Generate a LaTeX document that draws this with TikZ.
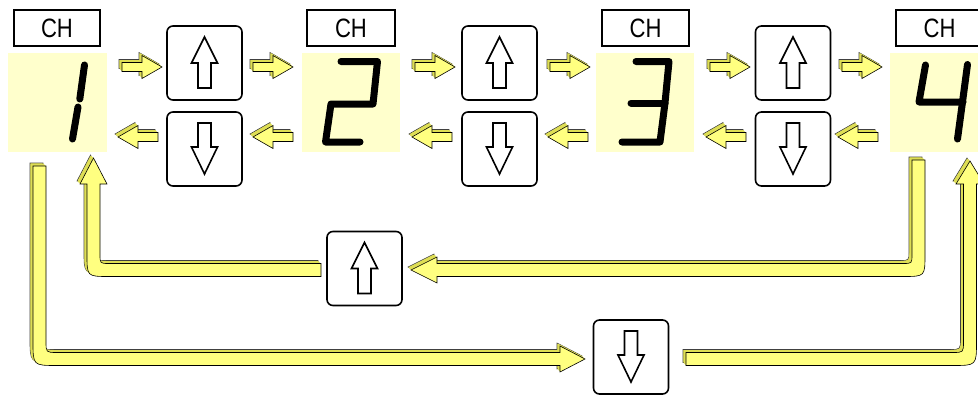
\documentclass[tikz,border=0pt]{standalone}
\usepackage{fontspec}
\usepackage{graphicx}
\setmainfont{Liberation Sans}
\definecolor{panelc}{RGB}{255,255,204}
\definecolor{facec}{RGB}{255,255,128}
\definecolor{sidec}{RGB}{222,222,84}
\tikzset{
  panel/.style={fill=panelc, draw=none, minimum width=#1, minimum height=99, inner sep=0},
  chbox/.style={draw=black, line width=1.5, fill=white, minimum width=#1, minimum height=36, inner sep=0,
    font=\fontsize{22.5}{22.5}\selectfont},
  btn/.style={draw=black, line width=1.6, fill=white, rounded corners=6, minimum width=75, minimum height=74, inner sep=0},
  glyph/.style={draw=black, line width=1.6, fill=white, line join=miter},
  seg/.style={draw=black, line width=7, line cap=round, line join=round},
}
\newcommand\chtext{\scalebox{0.98}[1.18]{CH}}
\newcommand\threed[1]{%
  \filldraw[fill=sidec,draw=black!75,line width=0.6,shift={(-3,-3)}] #1;
  \foreach \o in {2.5,2,1.5,1,0.5}{\fill[sidec,shift={(-\o,-\o)}] #1;}
  \filldraw[fill=facec,draw=black,line width=0.6] #1;}
\newcommand\sarrR[2]{\begin{scope}[shift={(#1,#2)}]\threed{(-40,-4.5) -- (-20,-4.5) -- (-20,-11.5) -- (0,0) -- (-20,11.5) -- (-20,4.5) -- (-40,4.5) -- cycle}\end{scope}}
\newcommand\sarrL[2]{\begin{scope}[shift={(#1,#2)}]\threed{(40,-4.5) -- (20,-4.5) -- (20,-11.5) -- (0,0) -- (20,11.5) -- (20,4.5) -- (40,4.5) -- cycle}\end{scope}}
\newcommand\upglyph[1]{\draw[glyph,shift={(#1.center)}] (-6.5,25) -- (-6.5,0) -- (-13,0) -- (0,-26) -- (13,0) -- (6.5,0) -- (6.5,25) -- cycle;}
\newcommand\downglyph[1]{\draw[glyph,shift={(#1.center)}] (-6.5,-26) -- (6.5,-26) -- (6.5,-2) -- (13,-2) -- (0,25) -- (-13,-2) -- (-6.5,-2) -- cycle;}
\begin{document}
\begin{tikzpicture}[x=1pt,y=-1pt]
\useasboundingbox (0,0) rectangle (978,394);
\clip (0,0) rectangle (978,394);
\fill[white] (0,0) rectangle (978,394);
% display panels
\node[panel=99] (p1) at (57.5,102.5) {};
\node[panel=98] (p2) at (351,102.5) {};
\node[panel=98] (p3) at (645,102.5) {};
\node[panel=98] (p4) at (939,102.5) {};
% CH labels
\node[chbox=86] (c1) at (57,28) {\chtext};
\node[chbox=88] (c2) at (351,28) {\chtext};
\node[chbox=87] (c3) at (645.5,28) {\chtext};
\node[chbox=87] (c4) at (939.5,28) {\chtext};
% seven-segment digits
\draw[seg] (84.5,65) -- (79.8,99);
\draw[seg] (78,107) -- (72.5,139);
\draw[seg] (341,61.5) -- (377.5,61.5) -- (373,104) -- (331,104) -- (325.5,142) -- (360,142);
\draw[seg] (636,61.5) -- (669,61.5) -- (665,103) -- (660,142) -- (622,142);
\draw[seg] (665,103) -- (631,103);
\draw[seg] (925.5,65) -- (919,102) -- (963,102);
\draw[seg] (967.5,64.5) -- (962.5,102) -- (957.5,139);
% buttons
\node[btn] (u1) at (204.5,63) {};
\node[btn] (d1) at (204.5,149) {};
\node[btn] (u2) at (499.5,63) {};
\node[btn] (d2) at (499.5,149) {};
\node[btn] (u3) at (793,63) {};
\node[btn] (d3) at (793,149) {};
\node[btn] (ub) at (364.5,268.5) {};
\node[btn] (db) at (631,357) {};
\upglyph{u1}\upglyph{u2}\upglyph{u3}\upglyph{ub}
\downglyph{d1}\downglyph{d2}\downglyph{d3}\downglyph{db}
% small arrows
\sarrR{162}{67}\sarrR{293}{67}\sarrR{455}{67}\sarrR{590}{67}\sarrR{750}{67}\sarrR{882}{67}
\sarrL{118}{137}\sarrL{253}{137}\sarrL{412}{137}\sarrL{548}{137}\sarrL{706}{137}\sarrL{838}{137}
% big arrows
\threed{(912,160) -- (925,160) -- (925,254.5) .. controls (925,276.5) .. (903,276.5) -- (437,276.5) -- (437,283) -- (411,270) -- (437,257) -- (437,263.5) -- (903,263.5) .. controls (912,263.5) .. (912,254.5) -- cycle}
\threed{(321,263.5) -- (109,263.5) .. controls (100,263.5) .. (100,254.5) -- (100,184) -- (107,184) -- (93.5,158) -- (80,184) -- (87,184) -- (87,254.5) .. controls (87,276.5) .. (109,276.5) -- (321,276.5) -- cycle}
\threed{(33,166) -- (46,166) -- (46,341.5) .. controls (46,352.5) .. (57,352.5) -- (560,352.5) -- (560,346) -- (585,359) -- (560,372) -- (560,365.5) -- (57,365.5) .. controls (33,365.5) .. (33,341.5) -- cycle}
\threed{(686,352.5) -- (952.5,352.5) .. controls (963.5,352.5) .. (963.5,341.5) -- (963.5,184) -- (956,184) -- (970,161) -- (984,184) -- (976.5,184) -- (976.5,341.5) .. controls (976.5,365.5) .. (952.5,365.5) -- (686,365.5) -- cycle}
\end{tikzpicture}
\end{document}
